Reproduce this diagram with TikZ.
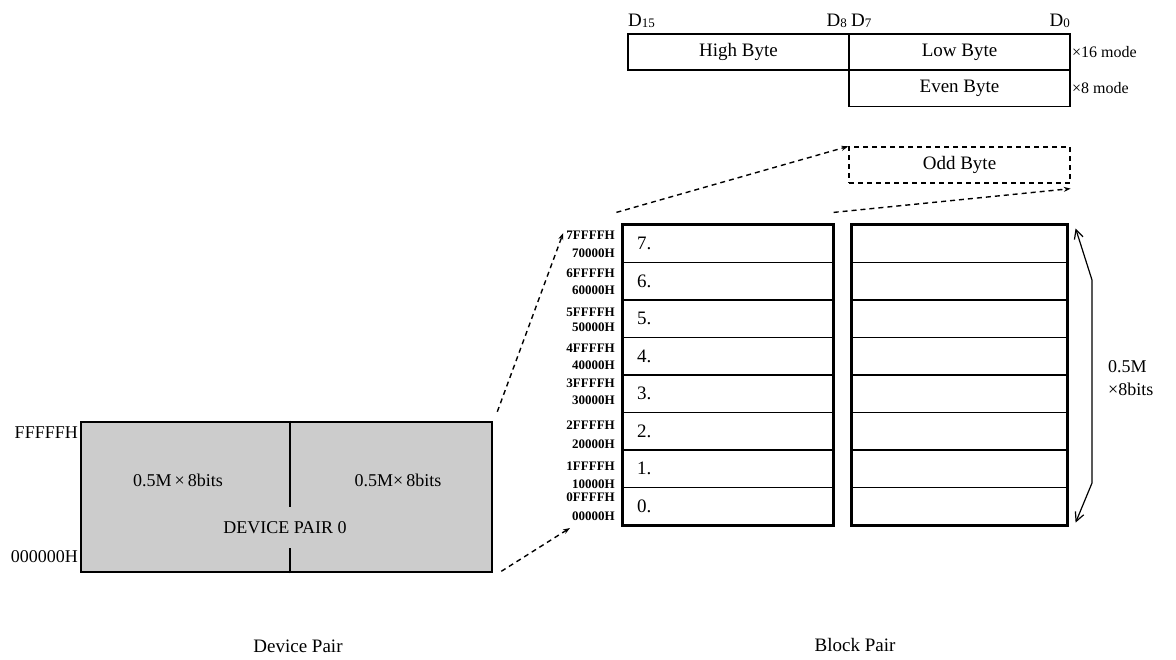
\documentclass[tikz,border=0pt]{standalone}
\usepackage{fontspec}
\setmainfont{Liberation Serif}
\usetikzlibrary{arrows.meta,calc}
\begin{document}
\begin{tikzpicture}[x=1pt,y=-1pt,
  bytebox/.style={draw,line width=1.3pt,minimum width=221pt,minimum height=36pt,inner sep=0pt,font=\fontsize{19}{20}\selectfont},
  dlbl/.style={inner sep=0pt,font=\fontsize{19}{20}\selectfont},
  model/.style={inner sep=0pt,anchor=west,font=\fontsize{16}{18}\selectfont},
  rowL/.style={draw,line width=1.2pt,minimum width=210pt,minimum height=37.5pt,inner sep=0pt},
  rowR/.style={draw,line width=1.2pt,minimum width=215pt,minimum height=37.5pt,inner sep=0pt},
  rownum/.style={inner sep=0pt,anchor=west,font=\fontsize{19}{20}\selectfont},
  addr/.style={inner sep=0pt,anchor=east,font=\fontsize{13}{14}\selectfont\bfseries},
  dline/.style={line width=1.4pt,dash pattern=on 5pt off 4pt,-{Stealth[length=7pt,width=5pt]}},
  txt/.style={inner sep=0pt,font=\fontsize{18}{20}\selectfont}
]
\useasboundingbox (0,0) rectangle (1176,659);

% top byte boxes
\node[bytebox] (hb) at (738.5,52) {High Byte};
\node[bytebox] (lb) at (959.5,52) {Low Byte};
\node[bytebox] (eb) at (959.5,88.5) {Even Byte};
\node[bytebox,dash pattern=on 5pt off 4pt] (ob) at (959.5,165) {Odd Byte};

\node[dlbl,anchor=west] (d15) at (628,21) {D\raisebox{-1.5pt}{\fontsize{13}{14}\selectfont 15}};
\node[dlbl,anchor=east] (d8) at (847,21) {D\raisebox{-1.5pt}{\fontsize{13}{14}\selectfont 8}};
\node[dlbl,anchor=west] (d7) at (851,21) {D\raisebox{-1.5pt}{\fontsize{13}{14}\selectfont 7}};
\node[dlbl,anchor=east] (d0) at (1070,21) {D\raisebox{-1.5pt}{\fontsize{13}{14}\selectfont 0}};

\node[model] (m16) at (1072,52) {×16 mode};
\node[model] (m8) at (1072,88) {×8 mode};

% blocks
\foreach \i in {0,...,7}{
  \node[rowL] (L\i) at (728,{525-37.5*(\i+0.5)}) {};
  \node[rownum] (N\i) at (637,{525-37.5*(\i+0.5)}) {\i.};
  \node[rowR] (R\i) at (959.5,{525-37.5*(\i+0.5)}) {};
}
\draw[line width=2.6pt] (L0.south west) rectangle (L7.north east);
\draw[line width=2.6pt] (R0.south west) rectangle (R7.north east);

% address labels
\node[addr] (a7h) at (615,235) {7FFFFH};
\node[addr] (a7l) at (615,253) {70000H};
\node[addr] (a6h) at (615,273) {6FFFFH};
\node[addr] (a6l) at (615,290) {60000H};
\node[addr] (a5h) at (615,312) {5FFFFH};
\node[addr] (a5l) at (615,327) {50000H};
\node[addr] (a4h) at (615,348) {4FFFFH};
\node[addr] (a4l) at (615,365) {40000H};
\node[addr] (a3h) at (615,383) {3FFFFH};
\node[addr] (a3l) at (615,400) {30000H};
\node[addr] (a2h) at (615,425) {2FFFFH};
\node[addr] (a2l) at (615,444) {20000H};
\node[addr] (a1h) at (615,466) {1FFFFH};
\node[addr] (a1l) at (615,484) {10000H};
\node[addr] (a0h) at (615,497) {0FFFFH};
\node[addr] (a0l) at (615,516) {00000H};

% size arrow
\coordinate (sa) at ($(R7.north east)+(8,4)$);
\coordinate (sb) at ($(R0.south east)+(8,-3)$);
\draw[line width=1.2pt,{Straight Barb[length=9pt,width=9pt]}-{Straight Barb[length=9pt,width=9pt]}]
  (sa) -- (1092,280) -- (1092,483) -- (sb);
\node[txt,anchor=west] (sz1) at (1108,367) {0.5M};
\node[txt,anchor=west] (sz2) at (1108,389) {×8bits};

% device pair
\node[draw,line width=2.6pt,fill=black!20,minimum width=411pt,minimum height=150pt,inner sep=0pt] (dev) at (286.5,497) {};
\draw[line width=1.2pt] ($(dev.north)+(3.5,0)$) -- ++(0,86);
\draw[line width=1.2pt] ($(dev.south)+(3.5,0)$) -- ++(0,-25);
\node[txt] (p1) at (178,480) {0.5M\,×\,8bits};
\node[txt] (p2) at (398,480) {0.5M×\,8bits};
\node[txt] (dp) at (285,528) {DEVICE PAIR 0};
\node[txt,anchor=east] (ftop) at (78,433) {FFFFFH};
\node[txt,anchor=east] (fbot) at (78,557) {000000H};

% dashed connectors
\coordinate (c1) at ($(dev.north east)+(4,-9)$);
\coordinate (c2) at ($(dev.south east)+(8,-2)$);
\draw[dline] (c1) -- ($(a7h.west)+(-3,-2)$);
\draw[dline] (c2) -- ($(a0l.west)+(-2,12)$);
\coordinate (c3) at ($(L7.north west)+(-6,-12)$);
\coordinate (c4) at ($(L7.north east)+(0,-12)$);
\draw[dline] (c3) -- (ob.north west);
\draw[dline] (c4) -- ($(ob.south east)+(0,5)$);

\node[txt,font=\fontsize{19}{21}\selectfont] (cap1) at (298,646) {Device Pair};
\node[txt,font=\fontsize{19}{21}\selectfont] (cap2) at (855,645) {Block Pair};
\end{tikzpicture}
\end{document}
